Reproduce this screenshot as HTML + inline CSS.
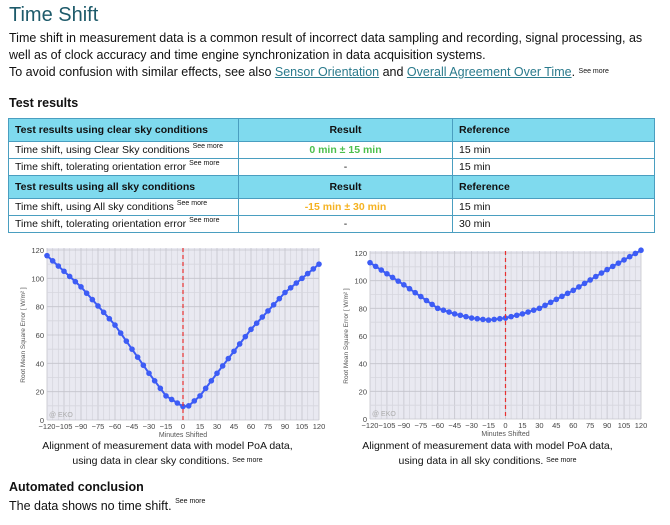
<!DOCTYPE html>
<html><head><meta charset="utf-8"><style>
*{margin:0;padding:0;box-sizing:border-box}
body{width:670px;height:525px;background:#fff;font-family:"Liberation Sans",sans-serif;color:#111;position:relative;overflow:hidden}
.a{position:absolute;white-space:nowrap}
sup{font-size:7px;vertical-align:top;position:relative;top:-1px}
a{color:#2a7a8c;text-decoration:underline}
table{position:absolute;left:8px;top:118px;width:647px;border-collapse:collapse;font-size:10.5px}
td{border:1px solid #4a9ec0;padding:0 6px;height:17px}
tr.h td{background:#7fdaee;font-weight:bold;height:23px}
.c{text-align:center}
</style></head><body>
<div class="a" style="left:9px;top:4px;font-size:20px;color:#1d5a6a">Time Shift</div>
<div class="a" style="left:9px;top:30px;font-size:12.5px;line-height:17px">Time shift in measurement data is a common result of incorrect data sampling and recording, signal processing, as<br>well as of clock accuracy and time engine synchronization in data acquisition systems.<br>To avoid confusion with similar effects, see also <a>Sensor Orientation</a> and <a>Overall Agreement Over Time</a>. <sup>See more</sup></div>
<div class="a" style="left:9px;top:96px;font-size:12.5px;font-weight:bold">Test results</div>
<table>
<colgroup><col style="width:230px"><col style="width:214px"><col></colgroup>
<tr class="h"><td>Test results using clear sky conditions</td><td class="c">Result</td><td>Reference</td></tr>
<tr><td>Time shift, using Clear Sky conditions <sup>See more</sup></td><td class="c" style="color:#4cbf4c;font-weight:bold">0 min ± 15 min</td><td>15 min</td></tr>
<tr><td>Time shift, tolerating orientation error <sup>See more</sup></td><td class="c">-</td><td>15 min</td></tr>
<tr class="h"><td>Test results using all sky conditions</td><td class="c">Result</td><td>Reference</td></tr>
<tr><td>Time shift, using All sky conditions <sup>See more</sup></td><td class="c" style="color:#f5b221;font-weight:bold">-15 min ± 30 min</td><td>15 min</td></tr>
<tr><td>Time shift, tolerating orientation error <sup>See more</sup></td><td class="c">-</td><td>30 min</td></tr>
</table>
<svg id="s" class="a" style="left:0;top:0" width="670" height="525"></svg>
<div class="a" style="left:0;width:335px;top:439px;text-align:center;font-size:10.5px;line-height:15px">Alignment of measurement data with model PoA data,<br>using data in clear sky conditions. <sup>See more</sup></div>
<div class="a" style="left:320px;width:335px;top:439px;text-align:center;font-size:10.5px;line-height:15px">Alignment of measurement data with model PoA data,<br>using data in all sky conditions. <sup>See more</sup></div>
<div class="a" style="left:9px;top:480px;font-size:12.5px;font-weight:bold">Automated conclusion</div>
<div class="a" style="left:9px;top:499px;font-size:12.5px">The data shows no time shift. <sup>See more</sup></div>
<script>
function interp(k,x){for(let i=0;i<k.length-1;i++){if(x>=k[i][0]&&x<=k[i+1][0]){let t=(x-k[i][0])/(k[i+1][0]-k[i][0]);return k[i][1]+t*(k[i+1][1]-k[i][1]);}}return k[k.length-1][1];}
let h='';
function chart(x0,x1,y0,y120,keys){
 const sx=v=>x0+(v+120)/240*(x1-x0), sy=v=>y0-(v/120)*(y0-y120);
 h+=`<rect x="${x0}" y="${y120-2}" width="${x1-x0}" height="${y0-y120+2}" fill="#e9e9f1"/>`;
 for(let v=-120;v<=120;v+=5){let X=sx(v);h+=`<line x1="${X}" x2="${X}" y1="${y120-2}" y2="${y0}" stroke="${v%15==0?'#c4c4cc':'#d6d6de'}" stroke-width="0.8"/>`;}
 for(let v=0;v<=120;v+=10){let Y=sy(v);h+=`<line x1="${x0}" x2="${x1}" y1="${Y}" y2="${Y}" stroke="${v%20==0?'#c4c4cc':'#d6d6de'}" stroke-width="0.8"/>`;}
 for(let v=-120;v<=120;v+=15){h+=`<text x="${sx(v)}" y="${y0+9}" font-size="7.5" fill="#444" text-anchor="middle" font-family="Liberation Sans">${v<0?'−'+(-v):v}</text>`;}
 for(let v=0;v<=120;v+=20){h+=`<text x="${x0-3}" y="${sy(v)+3}" font-size="7.5" fill="#444" text-anchor="end" font-family="Liberation Sans">${v}</text>`;}
 h+=`<text x="${(x0+x1)/2}" y="${y0+17}" font-size="7" fill="#555" text-anchor="middle" font-family="Liberation Sans">Minutes Shifted</text>`;
 let cy=(y0+y120)/2;h+=`<text transform="translate(${x0-22},${cy}) rotate(-90)" font-size="6.5" fill="#555" text-anchor="middle" font-family="Liberation Sans">Root Mean Square Error [ W/m² ]</text>`;
 h+=`<text x="${x0+2}" y="${y0-3}" font-size="7" fill="#aaa" font-family="Liberation Sans">@ EKO</text>`;
 let pts=[];for(let v=-120;v<=120;v+=5)pts.push([sx(v),sy(interp(keys,v))]);
 h+=`<polyline points="${pts.map(p=>p.join(',')).join(' ')}" fill="none" stroke="#3d5cf5" stroke-width="2"/>`;
 pts.forEach(p=>h+=`<circle cx="${p[0]}" cy="${p[1]}" r="2.8" fill="#3d5cf5"/>`);
 h+=`<line x1="${sx(0)}" x2="${sx(0)}" y1="${y120-2}" y2="${y0}" stroke="#e83030" stroke-width="1.2" stroke-dasharray="4,3"/>`;
}
chart(47,319,420,250,[[-120,116],[-90,94],[-60,67],[-30,33],[-15,17],[-5,12],[0,9.5],[5,10],[15,17],[30,33],[60,64],[90,90],[120,110]]);
chart(370,641,419,253,[[-120,113],[-90,97],[-60,80],[-45,76],[-30,73],[-15,71.5],[0,73],[15,76],[30,80],[60,93],[90,108],[120,122]]);
document.getElementById('s').innerHTML=h;
</script>
</body></html>
